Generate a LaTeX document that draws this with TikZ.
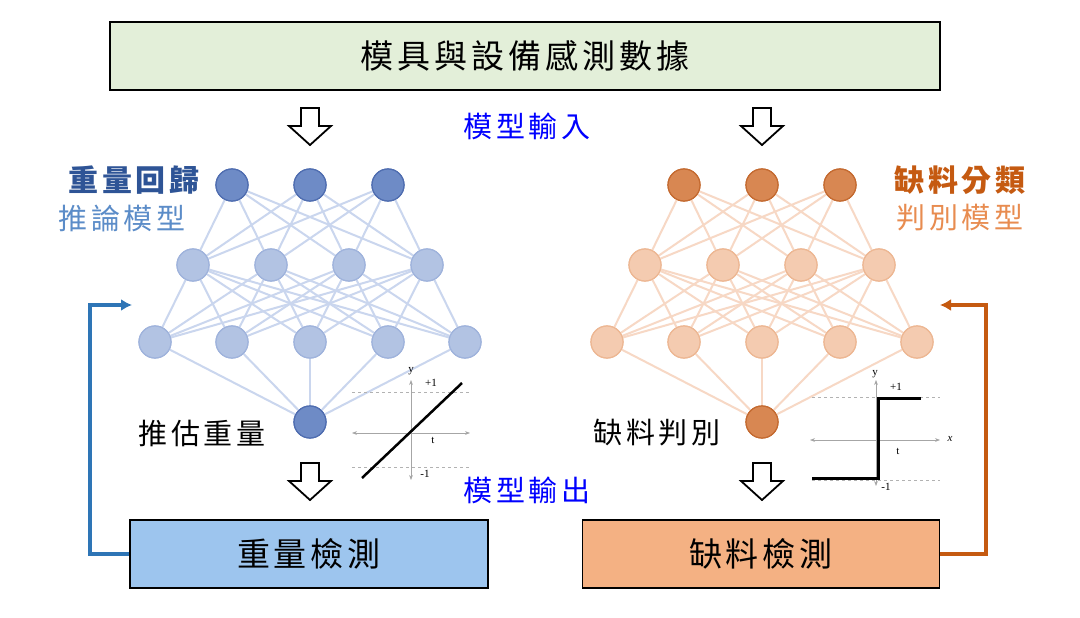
\documentclass[tikz,border=0pt]{standalone}
\usetikzlibrary{arrows.meta}
\usepackage{fontspec}
\setmainfont{Noto Sans CJK TC}[LetterSpace=12]
\newfontfamily\serifplot{Liberation Serif}
\begin{document}
\begin{tikzpicture}[x=1pt,y=-1pt,
 hollow/.style={draw=black,line width=1.8pt,fill=white},
 lh/.style={circle,minimum size=32pt,inner sep=0,draw=lhs,fill=lhf,line width=1.2pt},
 ld/.style={circle,minimum size=32pt,inner sep=0,draw=lds,fill=ldf,line width=1.2pt},
 rh/.style={circle,minimum size=32pt,inner sep=0,draw=rhs,fill=rhf,line width=1.2pt},
 rd/.style={circle,minimum size=32pt,inner sep=0,draw=rds,fill=rdf,line width=1.2pt},
 le/.style={draw=lec,line width=2pt},
 re/.style={draw=rec,line width=2pt},
 box/.style={draw=black,line width=1.2pt,minimum height=68pt,font=\fontsize{33}{36}\selectfont}]
\definecolor{lhs}{HTML}{9FB3DC}\definecolor{lhf}{HTML}{B2C3E3}
\definecolor{lds}{HTML}{4F6DB0}\definecolor{ldf}{HTML}{6E8BC6}
\definecolor{rhs}{HTML}{EDB793}\definecolor{rhf}{HTML}{F4CBB0}
\definecolor{rds}{HTML}{C46A30}\definecolor{rdf}{HTML}{D88752}
\definecolor{lec}{HTML}{CAD6EE}\definecolor{rec}{HTML}{F7D8C5}
\useasboundingbox (0,0) rectangle (1080,618);
\fill[white] (0,0) rectangle (1080,618);
\node[box,fill={rgb,255:red,227;green,239;blue,217},minimum width=830pt] (top) at (525,56) {模具與設備感測數據};
\node[box,fill={rgb,255:red,157;green,197;blue,238},minimum width=358pt] (lb) at (309,554) {重量檢測};
\node[box,fill={rgb,255:red,244;green,177;blue,131},minimum width=357pt] (rb) at (761,554) {缺料檢測};
\foreach \cx/\cy in {310/108,762/108,310/463,762/463}{
 \draw[hollow] (\cx-9,\cy) -- (\cx+9,\cy) -- (\cx+9,\cy+18) -- (\cx+21,\cy+18) -- (\cx,\cy+37) -- (\cx-21,\cy+18) -- (\cx-9,\cy+18) -- cycle;}
\foreach \o/\s/\d/\n in {0/lh/ld/L,452/rh/rd/R}{
 \foreach \i/\x in {1/232,2/310,3/388} \node[\d] (\n a\i) at (\x+\o,185) {};
 \foreach \i/\x in {1/193,2/271,3/349,4/427} \node[\s] (\n b\i) at (\x+\o,265) {};
 \foreach \i/\x in {1/155,2/232,3/310,4/388,5/465} \node[\s] (\n c\i) at (\x+\o,342) {};
 \node[\d] (\n o) at (310+\o,422) {};
}
\foreach \n/\e in {L/le,R/re}{
 \foreach \i in {1,2,3} \foreach \j in {1,2,3,4} \draw[\e] (\n a\i) -- (\n b\j);
 \foreach \i in {1,2,3,4} \foreach \j in {1,2,3,4,5} \draw[\e] (\n b\i) -- (\n c\j);
 \foreach \j in {1,2,3,4,5} \draw[\e] (\n c\j) -- (\n o);
}
\node[text=blue,font=\fontsize{29}{32}\selectfont] (in) at (527,126) {模型輸入};
\node[text=blue,font=\fontsize{29}{32}\selectfont] (out) at (527,490) {模型輸出};
\node[text={rgb,255:red,46;green,84;blue,150},font=\fontsize{30}{32}\selectfont\bfseries] (l1) at (134,180) {重量回歸};
\node[text={rgb,255:red,91;green,140;blue,200},font=\fontsize{29}{32}\selectfont] (l2) at (122,218) {推論模型};
\node[text={rgb,255:red,197;green,90;blue,17},font=\fontsize{30}{32}\selectfont\bfseries] (r1) at (960,180) {缺料分類};
\node[text={rgb,255:red,232;green,140;blue,80},font=\fontsize{29}{32}\selectfont] (r2) at (960,218) {判別模型};
\node[font=\fontsize{29}{32}\selectfont] (lt) at (202,433) {推估重量};
\node[font=\fontsize{29}{32}\selectfont] (rt) at (657,433) {缺料判別};
\coordinate (lf) at (132,305);
\coordinate (rf) at (940,305);
\draw[draw={rgb,255:red,46;green,117;blue,182},line width=4pt,-{Latex[length=11pt,width=12pt]}] (lb.west) -- (90,554) -- (90,305) -- (lf);
\draw[draw={rgb,255:red,197;green,90;blue,17},line width=4pt,-{Latex[length=11pt,width=12pt]}] (rb.east) -- (986,554) -- (986,305) -- (rf);
\begin{scope}[font=\serifplot\fontsize{11}{12}\selectfont]
\draw[gray!60,dashed,line width=0.6pt] (352,392) -- (470,392) (352,467) -- (470,467);
\draw[gray!70,line width=0.6pt,{Stealth[length=5pt]}-{Stealth[length=5pt]}] (352,433) -- (470,433);
\draw[gray!70,line width=0.6pt,{Stealth[length=5pt]}-{Stealth[length=5pt]}] (411,480) -- (411,380);
\draw[line width=2.5pt] (362,478) -- (462,383);
\node at (411,371) {y}; \node at (431,383) {+1}; \node at (433,440) {t}; \node at (425,474) {-1};
\draw[gray!60,dashed,line width=0.6pt] (812,397) -- (940,397) (812,480) -- (940,480);
\draw[gray!70,line width=0.6pt,{Stealth[length=5pt]}-{Stealth[length=5pt]}] (810,440) -- (940,440);
\node at (950,439) {\itshape x};
\draw[gray!70,line width=0.6pt,{Stealth[length=5pt]}-{Stealth[length=5pt]}] (876,486) -- (876,380);
\draw[line width=3pt] (812,478) -- (878,478) -- (878,398) -- (921,398);
\node at (875,374) {y}; \node at (896,387) {+1}; \node at (898,451) {t}; \node at (886,487) {-1};
\end{scope}
\foreach \o/\s/\d in {0/lh/ld,452/rh/rd}{
 \foreach \x in {232,310,388} \node[\d] at (\x+\o,185) {};
 \foreach \x in {193,271,349,427} \node[\s] at (\x+\o,265) {};
 \foreach \x in {155,232,310,388,465} \node[\s] at (\x+\o,342) {};
 \node[\d] at (310+\o,422) {};
}
\end{tikzpicture}
\end{document}
